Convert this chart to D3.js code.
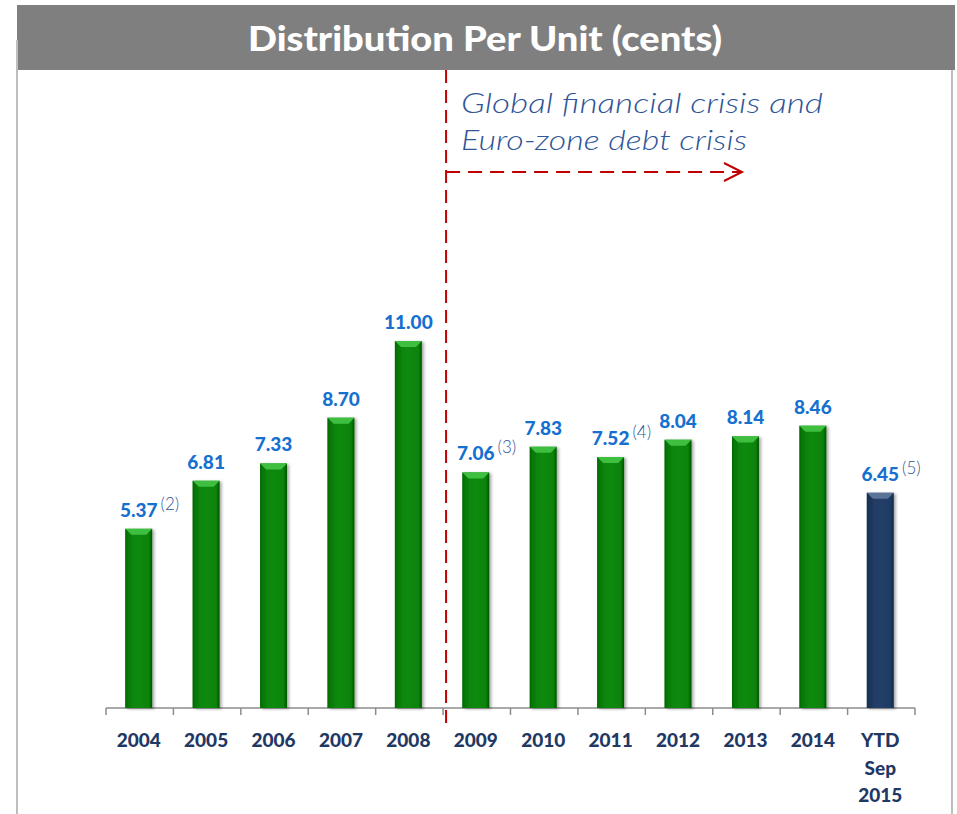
<!DOCTYPE html>
<html><head><meta charset="utf-8">
<script src="https://cdn.jsdelivr.net/npm/d3@7"></script>
<style>body{margin:0;background:#fff}svg{display:block}</style>
</head><body>
<svg id="chart" width="957" height="814"></svg>
<script>
const categories = ["2004","2005","2006","2007","2008","2009","2010","2011","2012","2013","2014","YTD Sep 2015"];
const values = [5.37,6.81,7.33,8.70,11.00,7.06,7.83,7.52,8.04,8.14,8.46,6.45];
const valueLabels = ["5.37","6.81","7.33","8.70","11.00","7.06","7.83","7.52","8.04","8.14","8.46","6.45"];
const footnotes = ["(2)","","","","","(3)","","(4)","","","","(5)"];
const seriesType = ["actual","actual","actual","actual","actual","actual","actual","actual","actual","actual","actual","ytd"];
const title = "Distribution Per Unit (cents)";
const annotationLines = ["Global financial crisis and","Euro-zone debt crisis"];
const crisisStart = "2009";

const svg = d3.select("#chart");
const font = "'Lato','Open Sans',sans-serif";

// defs: gradients
const defs = svg.append("defs");
function hgrad(id, stops){
  const g = defs.append("linearGradient").attr("id",id).attr("x1","0").attr("x2","1").attr("y1","0").attr("y2","0");
  stops.forEach(s=>g.append("stop").attr("offset",s[0]).attr("stop-color",s[1]));
}
hgrad("gGreen",[[0,"#055f05"],[0.12,"#078207"],[0.5,"#0a8a0a"],[0.88,"#078207"],[1,"#045504"]]);
hgrad("gNavy",[[0,"#142b4a"],[0.12,"#1f3b63"],[0.5,"#223f68"],[0.88,"#1f3b63"],[1,"#12284a"]]);
const f = defs.append("filter").attr("id","shadow").attr("x","-30%").attr("y","-10%").attr("width","160%").attr("height","130%");
f.append("feDropShadow").attr("dx",2).attr("dy",1).attr("stdDeviation",1.5).attr("flood-color","#000").attr("flood-opacity",0.35);

// frame
svg.append("rect").attr("x",17).attr("y",5).attr("width",938).attr("height",65).attr("fill","#7f7f7f");
svg.append("line").attr("x1",17).attr("x2",17).attr("y1",40).attr("y2",814).attr("stroke","#bdbdbd").attr("stroke-width",2);
svg.append("line").attr("x1",952).attr("x2",952).attr("y1",70).attr("y2",814).attr("stroke","#bdbdbd").attr("stroke-width",2);
svg.append("text").attr("x",485).attr("y",51).attr("text-anchor","middle")
  .attr("font-family",font).attr("font-weight","900").attr("font-size",34).attr("fill","#fff")
  .attr("textLength",474).attr("lengthAdjust","spacingAndGlyphs").text(title);

// scales
const x = d3.scaleBand().domain(categories).range([106,915]).paddingInner(0.6).paddingOuter(0.3);
const y = d3.scaleLinear().domain([0,11]).range([708,341]);

// axis
const axisG = svg.append("g").attr("transform","translate(0,708)");
axisG.append("line").attr("x1",106).attr("x2",915).attr("stroke","#8c8c8c").attr("stroke-width",1.5);
const tickXs = d3.range(categories.length+1).map(i=>106+i*(809/categories.length));
axisG.selectAll("line.tick").data(tickXs).join("line").attr("class","tick")
  .attr("x1",d=>d).attr("x2",d=>d).attr("y1",0).attr("y2",7).attr("stroke","#8c8c8c").attr("stroke-width",1.5);

// bars
const bars = svg.append("g");
categories.forEach((c,i)=>{
  const bx = x(c)-1, bw = x.bandwidth(), by = y(values[i]), bh = y(0)-y(values[i]);
  const ytd = seriesType[i]==="ytd";
  const g = bars.append("g");
  g.append("rect").attr("x",bx).attr("y",by).attr("width",bw).attr("height",bh)
    .attr("fill",ytd?"url(#gNavy)":"url(#gGreen)").attr("filter","url(#shadow)");
  const bev = 6;
  g.append("path").attr("d",`M${bx},${by}L${bx+bw},${by}L${bx+bw-bev},${by+bev}L${bx+bev},${by+bev}Z`)
    .attr("fill",ytd?"#5a7396":"#3fbf3f");
  g.append("path").attr("d",`M${bx},${by}L${bx+bev},${by+bev}L${bx+bev},${by+bh}L${bx},${by+bh}Z`)
    .attr("fill",ytd?"#1a3253":"#067306").attr("opacity",0.5);
});

// value labels
const lab = svg.append("g");
categories.forEach((c,i)=>{
  const cx = x(c)-1+x.bandwidth()/2, ty = y(values[i])-12;
  const t = lab.append("text").attr("x",cx).attr("y",ty).attr("text-anchor","middle")
    .attr("font-family",font).attr("font-weight","900").attr("font-size",19).attr("fill","#1570d0")
    .text(valueLabels[i]);
  if(footnotes[i]){
    const w = t.node().getComputedTextLength();
    lab.append("text").attr("x",cx+w/2+3).attr("y",ty-7)
      .attr("font-family",font).attr("font-weight","300").attr("font-size",17).attr("fill","#2f5597").text(footnotes[i]);
  }
});

// category labels
const cl = svg.append("g");
categories.forEach((c,i)=>{
  const cx = x(c)-1+x.bandwidth()/2;
  const parts = c.split(" ");
  parts.forEach((p,j)=>{
    cl.append("text").attr("x",cx).attr("y",747+j*27.5).attr("text-anchor","middle")
      .attr("font-family",font).attr("font-weight","900").attr("font-size",19).attr("fill","#1f3864").text(p);
  });
});

// crisis annotation
const cx0 = 106 + categories.indexOf(crisisStart)*(809/categories.length) + 3;
const red = "#c00000";
svg.append("line").attr("x1",cx0).attr("x2",cx0).attr("y1",70).attr("y2",725)
  .attr("stroke",red).attr("stroke-width",2).attr("stroke-dasharray","13,7");
svg.append("line").attr("x1",cx0).attr("x2",740).attr("y1",172).attr("y2",172)
  .attr("stroke",red).attr("stroke-width",2).attr("stroke-dasharray","14,8");
svg.append("path").attr("d","M724,163L742,172L724,181").attr("fill","none").attr("stroke",red).attr("stroke-width",2);
annotationLines.forEach((t,j)=>{
  svg.append("text").attr("x",461).attr("y",113+j*37).attr("font-family",font).attr("font-style","italic")
    .attr("font-weight","300").attr("font-size",27).attr("fill","#2f5597")
    .attr("textLength", j===0?362:286).attr("lengthAdjust","spacingAndGlyphs").text(t);
});
</script>
</body></html>
